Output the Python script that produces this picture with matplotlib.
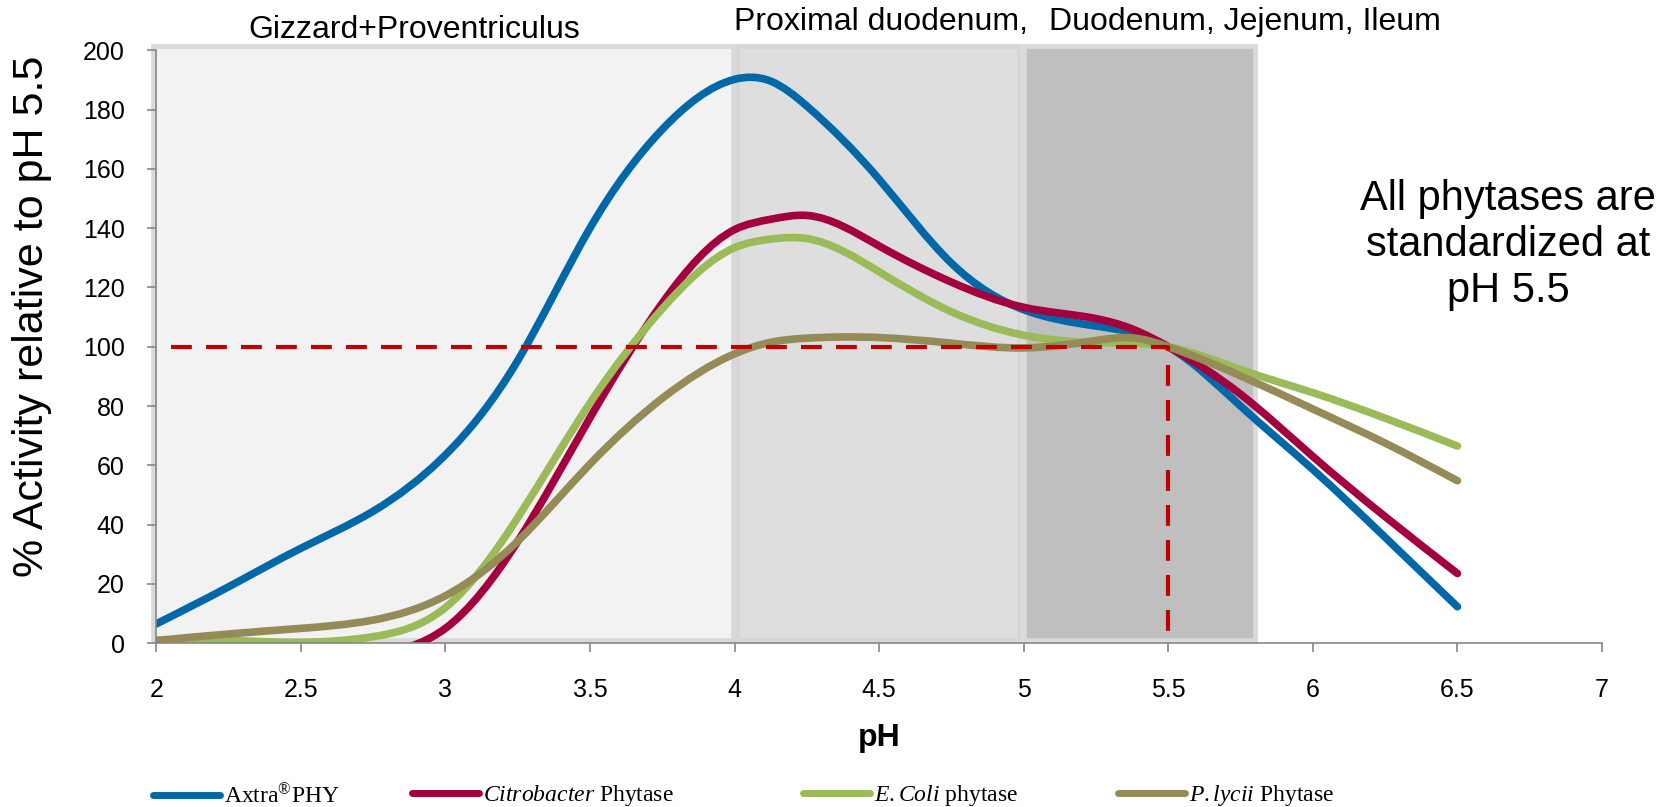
"""
Phytase pH activity profiles with GI-tract pH zones.
"""

import matplotlib.pyplot as plt
import numpy as np
from matplotlib.lines import Line2D
from matplotlib.patches import PathPatch, Rectangle
from matplotlib.path import Path
from matplotlib.ticker import FormatStrFormatter

plt.rcParams.update({
    "font.family":       ["Liberation Sans", "DejaVu Sans"],
    "mathtext.fontset":  "custom",
    "mathtext.rm":       "Liberation Serif",
    "mathtext.it":       "Liberation Serif:italic",
})

# ── Data ──────────────────────────────────────────────────────────────────────
PH = [2.0, 2.25, 2.5, 2.75, 3.0, 3.25, 3.5, 3.75, 4.0, 4.125, 4.25,
      4.5, 4.75, 5.0, 5.25, 5.375, 5.5, 5.75, 6.0, 6.25, 6.5]
AXTRA = [6.5, 19, 32, 44.5, 63.5, 95.3, 140, 173.3, 190.2, 189.6, 181.2,
         156.5, 128.2, 112.5, 107, 104.8, 100, 80, 58.6, 35.7, 12.3]
CITRO = [0, -0.5, -6, -4, 5, 34.3, 76, 114.7, 139.5, 143, 144.3,
         134, 121.8, 113.3, 109.5, 106, 100, 84, 63, 42.7, 23.5]
ECOLI = [1, 0.9, 0.3, 2.2, 12, 42.3, 81, 112.8, 133.4, 136.3, 136.5,
         125.3, 111.8, 103.9, 101.4, 101.2, 100, 92.3, 84.5, 75.9, 66.5]
PLYCII = [0.9, 3.1, 5, 7.8, 16, 34.4, 60.4, 82.6, 97.6, 101.5, 102.9,
          103.1, 101.2, 99.6, 102.1, 103, 100, 90.2, 79, 67.5, 54.8]

REF_X = [2.05, 5.5, 5.5]
REF_Y = [100, 100, 0]

ZONE_START = [1.99, 4.01, 5.0]
ZONE_END = [3.995, 4.985, 5.8]
ZONE_FACE = ["#f2f2f2", "#dedede", "#bfbfbf"]
ZONE_EDGE = ["#d9d9d9", "#d6d6d6", "#d9d9d9"]

SERIES = [
    (AXTRA,  "#0068a8", "Axtra$^{®}$PHY"),
    (CITRO,  "#a4003f", r"$\it{Citrobacter}$ Phytase"),
    (ECOLI,  "#9bbb59", r"$\it{E{.}Coli}$ phytase"),
    (PLYCII, "#958b56", r"$\it{P{.}lycii}$ Phytase"),
]
LEGEND_X = [153, 412, 803, 1118]   # px, left edge of each legend handle

W, H = 1678, 807


def smooth_path(x, y):
    """Smoothed line through the points: natural cubic spline as Beziers."""
    x = np.asarray(x, float)
    y = np.asarray(y, float)
    n = len(x)
    h = np.diff(x)
    # second derivatives, natural end conditions
    A = np.zeros((n, n))
    r = np.zeros(n)
    A[0, 0] = A[-1, -1] = 1
    for i in range(1, n - 1):
        A[i, i - 1] = h[i - 1]
        A[i, i] = 2 * (h[i - 1] + h[i])
        A[i, i + 1] = h[i]
        r[i] = 6 * ((y[i + 1] - y[i]) / h[i] - (y[i] - y[i - 1]) / h[i - 1])
    M = np.linalg.solve(A, r)
    s = np.empty(n)
    s[:-1] = np.diff(y) / h - h * (2 * M[:-1] + M[1:]) / 6
    s[-1] = (y[-1] - y[-2]) / h[-1] + h[-1] * (M[-2] + 2 * M[-1]) / 6

    verts, codes = [(x[0], y[0])], [Path.MOVETO]
    for i in range(n - 1):
        d = h[i] / 3
        verts += [(x[i] + d, y[i] + s[i] * d),
                  (x[i + 1] - d, y[i + 1] - s[i + 1] * d),
                  (x[i + 1], y[i + 1])]
        codes += [Path.CURVE4] * 3
    return Path(verts, codes)


fig = plt.figure(figsize=(W / 100, H / 100), dpi=100)
ax = fig.add_axes([156.2 / W, 1 - 643.2 / H, 1445.8 / W, 592.9 / H])
ax.set_xlim(2, 7)
ax.set_ylim(0, 200)

# pH zones
for x0, x1, fc, ec in zip(ZONE_START, ZONE_END, ZONE_FACE, ZONE_EDGE):
    ax.add_patch(Rectangle((x0, 1.2), x1 - x0, 200.1, facecolor=fc,
                           edgecolor=ec, lw=3.4, clip_on=False, zorder=0.5))

# phytase curves
for vals, color, _ in SERIES:
    ax.add_patch(PathPatch(smooth_path(PH, vals), fill=False, edgecolor=color,
                           lw=5.5, capstyle="round", joinstyle="round",
                           zorder=3))

# pH 5.5 standardisation guide
ax.plot(REF_X, REF_Y, color="#c00000", lw=3.0, dashes=(5, 3.4), zorder=4)

# axes styling
for side in ("top", "right"):
    ax.spines[side].set_visible(False)
for side in ("left", "bottom"):
    ax.spines[side].set_color("#868686")
    ax.spines[side].set_linewidth(1.2)
    ax.spines[side].set_zorder(5)
ax.set_xticks(np.arange(2, 7.01, 0.5))
ax.set_yticks(np.arange(0, 201, 20))
ax.xaxis.set_major_formatter(FormatStrFormatter("%g"))
ax.tick_params(direction="out", length=6.7, width=1.2, color="#868686",
               labelsize=18)
ax.tick_params(axis="y", pad=16)
ax.tick_params(axis="x", pad=18)
ax.patch.set_visible(False)

ax.set_ylabel("% Activity relative to pH 5.5", fontsize=31, va="center")
ax.yaxis.set_label_coords((32 - 156.2) / 1445.8, (643.2 - 316) / 592.9)
ax.set_xlabel("pH", fontsize=23, fontweight="bold", va="center")
ax.xaxis.set_label_coords(0.5, (643.2 - 738) / 592.9)

# zone labels
fig.text(414 / W, 1 - 38 / H, "Gizzard+Proventriculus", fontsize=23,
         ha="center", va="baseline")
fig.text(734 / W, 1 - 30 / H, "Proximal duodenum,", fontsize=23,
         ha="left", va="baseline")
fig.text(1049 / W, 1 - 30 / H, "Duodenum, Jejenum, Ileum", fontsize=23,
         ha="left", va="baseline")

fig.text(1508 / W, 1 - 245 / H, "All phytases are\nstandardized at\npH 5.5",
         fontsize=30, ha="center", va="center", linespacing=1.2,
         multialignment="center")

# legend row, one entry per handle position
for (vals, color, label), lx in zip(SERIES, LEGEND_X):
    handle = Line2D([0], [0], color=color, lw=5, solid_capstyle="round")
    fig.legend(handles=[handle], labels=[label], loc="center left",
               bbox_to_anchor=(lx / W, 1 - 796 / H), frameon=False,
               prop={"family": "Liberation Serif", "size": 17},
               handlelength=2.85, handletextpad=0.15, borderpad=0,
               borderaxespad=0)

fig.savefig("out.png", dpi=100)
